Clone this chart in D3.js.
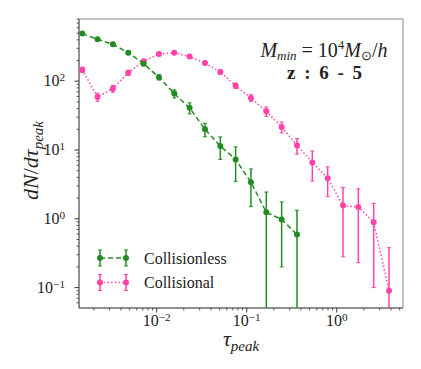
<!DOCTYPE html>
<html>
<head>
<meta charset="utf-8">
<script src="https://cdn.jsdelivr.net/npm/d3@7"></script>
<style>
  body { margin: 0; background: #fff; }
</style>
</head>
<body>
<svg id="chart"></svg>
<script>
// bin centres (tau_peak)
const tau = [0.00149, 0.00220, 0.00326, 0.00483, 0.00716, 0.01059, 0.01568, 0.0232,
             0.0344, 0.0509, 0.0753, 0.1115, 0.1651, 0.2444, 0.3619, 0.5358,
             0.793, 1.174, 1.739, 2.574, 3.811];

const collisionless    = [492, 406, 344, 260, 180, 114, 66, 41, 20, 11.4, 7.3, 3.4, 1.24, 0.98, 0.59];
const collisionlessErr = [20, 18, 17, 15, 12, 10, 9, 7.5, 4.4, 4.1, 3.8, 1.9, 1.21, 0.78, 0.74];

const collisional    = [147, 59, 78, 133, 195, 248, 260, 228, 184, 136, 86, 57, 36.5, 21.6, 11.7,
                        6.6, 3.9, 1.56, 1.48, 0.89, 0.09];
const collisionalErr = [13, 8, 9, 11, 13, 14, 15, 14, 12, 10, 8, 6.5, 5.7, 3.9, 3.0,
                        3.07, 1.8, 1.28, 1.25, 0.79, 0.29];

const xTickExps = [-2, -1, 0];
const yTickExps = [-1, 0, 1, 2];
const seriesNames = ["Collisionless", "Collisional"];

const width = 421, height = 369;
const margin = { top: 19, right: 18, bottom: 61, left: 79 };
const serif = "Liberation Serif";

const svg = d3.select("#chart").attr("width", width).attr("height", height)
  .attr("font-family", serif).style("font-family", serif);

const x = d3.scaleLog().domain([0.00137, 5.45]).range([margin.left, width - margin.right]);
const y = d3.scaleLog().domain([0.0505, 802]).range([height - margin.bottom, margin.top]);

svg.append("clipPath").attr("id", "clip")
  .append("rect")
  .attr("x", margin.left).attr("y", margin.top)
  .attr("width", width - margin.left - margin.right)
  .attr("height", height - margin.top - margin.bottom);

// power-of-ten labels
function powLabel(sel, e) {
  sel.text("");
  sel.append("tspan").text("10");
  sel.append("tspan").attr("dy", "-0.45em").attr("font-size", "0.7em")
    .text(e < 0 ? "\u2212" + (-e) : e);
}

// minor ticks
const xMinor = [], yMinor = [];
for (let e = -3; e <= 0; e++) for (let m = 2; m <= 9; m++) {
  const v = m * Math.pow(10, e);
  if (v > x.domain()[0] && v < x.domain()[1]) xMinor.push(v);
}
for (let e = -2; e <= 2; e++) for (let m = 2; m <= 9; m++) {
  const v = m * Math.pow(10, e);
  if (v > y.domain()[0] && v < y.domain()[1]) yMinor.push(v);
}

const xAxis = svg.append("g").attr("transform", `translate(0,${height - margin.bottom})`);
xAxis.selectAll("line.minor").data(xMinor).join("line")
  .attr("x1", d => x(d)).attr("x2", d => x(d)).attr("y1", 0).attr("y2", 2.5)
  .attr("stroke", "#222").attr("stroke-width", 0.7);
xAxis.selectAll("line.major").data(xTickExps).join("line")
  .attr("x1", d => x(Math.pow(10, d))).attr("x2", d => x(Math.pow(10, d)))
  .attr("y1", 0).attr("y2", 4.5).attr("stroke", "#222").attr("stroke-width", 0.9);
xAxis.selectAll("text").data(xTickExps).join("text")
  .attr("x", d => x(Math.pow(10, d))).attr("y", 18)
  .attr("text-anchor", "middle").attr("font-size", 16).attr("fill", "#222")
  .each(function(d) { powLabel(d3.select(this), d); });

const yAxis = svg.append("g").attr("transform", `translate(${margin.left},0)`);
yAxis.selectAll("line.minor").data(yMinor).join("line")
  .attr("y1", d => y(d)).attr("y2", d => y(d)).attr("x1", 0).attr("x2", -2.5)
  .attr("stroke", "#222").attr("stroke-width", 0.7);
yAxis.selectAll("line.major").data(yTickExps).join("line")
  .attr("y1", d => y(Math.pow(10, d))).attr("y2", d => y(Math.pow(10, d)))
  .attr("x1", 0).attr("x2", -4.5).attr("stroke", "#222").attr("stroke-width", 0.9);
yAxis.selectAll("text").data(yTickExps).join("text")
  .attr("x", -14).attr("y", d => y(Math.pow(10, d)) + 5)
  .attr("text-anchor", "end").attr("font-size", 16).attr("fill", "#222")
  .each(function(d) { powLabel(d3.select(this), d); });

// spines
const x0 = margin.left, x1 = width - margin.right, y0 = margin.top, y1 = height - margin.bottom;
svg.append("line").attr("x1", x0).attr("x2", x1).attr("y1", y0).attr("y2", y0).attr("stroke", "#888").attr("stroke-width", 1);
svg.append("line").attr("x1", x1).attr("x2", x1).attr("y1", y0).attr("y2", y1).attr("stroke", "#888").attr("stroke-width", 1);
svg.append("line").attr("x1", x0).attr("x2", x1).attr("y1", y1).attr("y2", y1).attr("stroke", "#222").attr("stroke-width", 1);
svg.append("line").attr("x1", x0).attr("x2", x0).attr("y1", y0).attr("y2", y1).attr("stroke", "#222").attr("stroke-width", 1);

// series
const series = [
  { name: seriesNames[0], vals: collisionless, errs: collisionlessErr, color: "#228b22", dash: "5,3" },
  { name: seriesNames[1], vals: collisional, errs: collisionalErr, color: "#ff43a9", dash: "1.5,2.2" }
];

const plot = svg.append("g").attr("clip-path", "url(#clip)");
const line = d3.line().x(d => x(d[0])).y(d => y(d[1]));
const ymin = y.domain()[0] * 0.5;

series.slice().reverse().forEach(s => {
  const pts = s.vals.map((v, i) => [tau[i], v, s.errs[i]]);
  const g = plot.append("g");
  g.append("path").datum(pts).attr("d", line)
    .attr("fill", "none").attr("stroke", s.color).attr("stroke-width", 1.5)
    .attr("stroke-dasharray", s.dash);
  const eb = g.selectAll("g.eb").data(pts).join("g");
  eb.append("line")
    .attr("x1", d => x(d[0])).attr("x2", d => x(d[0]))
    .attr("y1", d => y(d[1] + d[2])).attr("y2", d => y(Math.max(d[1] - d[2], ymin)))
    .attr("stroke", s.color).attr("stroke-width", 1.5);
  [d => d[1] + d[2], d => d[1] - d[2]].forEach(f => {
    eb.filter(d => f(d) > 0).append("line")
      .attr("x1", d => x(d[0]) - 2).attr("x2", d => x(d[0]) + 2)
      .attr("y1", d => y(f(d))).attr("y2", d => y(f(d)))
      .attr("stroke", s.color).attr("stroke-width", 1);
  });
  eb.append("circle").attr("cx", d => x(d[0])).attr("cy", d => y(d[1])).attr("r", 3)
    .attr("fill", s.color);
});

// legend
const legend = svg.append("g");
series.forEach((s, i) => {
  const ly = 258 + i * 24.5;
  const lg = legend.append("g");
  lg.append("line").attr("x1", 100).attr("x2", 126).attr("y1", ly).attr("y2", ly)
    .attr("stroke", s.color).attr("stroke-width", 1.5).attr("stroke-dasharray", s.dash);
  [100, 126].forEach(lx => {
    lg.append("line").attr("x1", lx).attr("x2", lx).attr("y1", ly - 8).attr("y2", ly + 8)
      .attr("stroke", s.color).attr("stroke-width", 1.5);
    lg.append("line").attr("x1", lx - 2).attr("x2", lx + 2).attr("y1", ly - 8).attr("y2", ly - 8)
      .attr("stroke", s.color).attr("stroke-width", 1);
    lg.append("line").attr("x1", lx - 2).attr("x2", lx + 2).attr("y1", ly + 8).attr("y2", ly + 8)
      .attr("stroke", s.color).attr("stroke-width", 1);
    lg.append("circle").attr("cx", lx).attr("cy", ly).attr("r", 3).attr("fill", s.color);
  });
  lg.append("text").attr("x", 144).attr("y", ly + 5.5).attr("font-size", 16)
    .attr("fill", "#222").text(s.name);
});

// annotation
const ann = svg.append("text").attr("x", 324).attr("y", 57).attr("text-anchor", "middle")
  .attr("font-size", 20).attr("fill", "#222");
ann.append("tspan").attr("font-style", "italic").text("M");
ann.append("tspan").attr("font-style", "italic").attr("font-size", 13).attr("dy", 3).text("min");
ann.append("tspan").attr("dy", -3).text(" = 10");
ann.append("tspan").attr("font-size", 13).attr("dy", -8).text("4");
ann.append("tspan").attr("font-style", "italic").attr("dy", 8).text("M");
ann.append("tspan").attr("font-size", 13).attr("dy", 3).text("\u2299");
ann.append("tspan").attr("dy", -3).text("/");
ann.append("tspan").attr("font-style", "italic").text("h");

svg.append("text").attr("x", 325).attr("y", 79).attr("text-anchor", "middle")
  .attr("font-size", 19).attr("font-weight", "bold").attr("fill", "#222")
  .attr("letter-spacing", 1).attr("word-spacing", 2).text("z : 6 - 5");

// axis labels
const xl = svg.append("text").attr("x", (x0 + x1) / 2).attr("y", 346).attr("text-anchor", "middle")
  .attr("font-size", 22).attr("fill", "#222");
xl.append("tspan").attr("font-style", "italic").text("\u03c4");
xl.append("tspan").attr("font-style", "italic").attr("font-size", 15).attr("dy", 5).text("peak");

const yl = svg.append("text").attr("transform", `translate(38,${(y0 + y1) / 2 - 3}) rotate(-90)`)
  .attr("text-anchor", "middle").attr("font-size", 22).attr("fill", "#222");
yl.append("tspan").attr("font-style", "italic").text("dN");
yl.append("tspan").text("/");
yl.append("tspan").attr("font-style", "italic").text("d\u03c4");
yl.append("tspan").attr("font-style", "italic").attr("font-size", 15).attr("dy", 5).text("peak");
</script>
</body>
</html>
